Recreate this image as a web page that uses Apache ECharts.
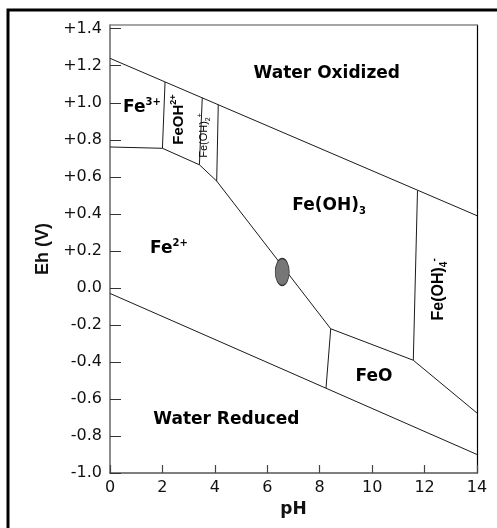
<!DOCTYPE html>
<html>
<head>
<meta charset="utf-8">
<script src="https://cdn.jsdelivr.net/npm/echarts@6/dist/echarts.min.js"></script>
<style>
html,body{margin:0;padding:0;background:#fff;}
#chart{width:497px;height:528px;}
</style>
</head>
<body>
<div id="chart"></div>
<script>
// ---- data (pH, Eh in volts) ----
const xTicks = [0, 2, 4, 6, 8, 10, 12, 14];
const yTickLabels = ['-1.0','-0.8','-0.6','-0.4','-0.2','0.0','+0.2','+0.4','+0.6','+0.8','+1.0','+1.2','+1.4'];

const waterUpper   = [[0, 1.24], [14, 0.39]];
const waterLower   = [[0, -0.03], [14, -0.90]];
const fe3Fe2       = [[0, 0.761], [2.0, 0.754]];
const fe3FeOH      = [[2.0, 0.754], [2.1, 1.112]];
const feOHFe2      = [[2.0, 0.754], [3.41, 0.665]];
const feOHFeOH2    = [[3.41, 0.665], [3.52, 1.026]];
const feOH2Fe2     = [[3.41, 0.665], [4.07, 0.577]];
const feOH2FeOH3   = [[4.07, 0.577], [4.13, 0.989]];
const fe2FeOH3     = [[4.07, 0.577], [8.42, -0.221]];
const fe2FeO       = [[8.42, -0.221], [8.24, -0.542]];
const feOH3FeO     = [[8.42, -0.221], [11.57, -0.391]];
const feOH3FeOH4   = [[11.57, -0.391], [11.73, 0.525]];
const feOFeOH4     = [[11.57, -0.391], [14, -0.676]];

const samplePoint  = [[6.57, 0.086]];

const regionMain = ['Water Oxidized', 'Fe', 'FeOH', 'Fe(OH)', 'Fe(OH)', 'Fe', 'Fe(OH)', 'FeO', 'Water Reduced'];
const regionSub  = ['', '', '', '2', '3', '', '4', '', ''];
const regionSup  = ['', '3+', '2+', '+', '', '2+', '-', '', ''];
const regionPH   = [8.27, 1.22, 2.63, 3.59, 8.36, 2.25, 12.55, 10.07, 4.44];
const regionEh   = [1.159, 0.974, 0.909, 0.823, 0.443, 0.21, -0.008, -0.481, -0.714];

// ---- build chart ----
const boundaries = [waterUpper, waterLower, fe3Fe2, fe3FeOH, feOHFe2, feOHFeOH2, feOH2Fe2,
  feOH2FeOH3, fe2FeOH3, fe2FeO, feOH3FeO, feOH3FeOH4, feOFeOH4];

const H = 'DejaVu Sans';
const V = 'Liberation Sans';
const rotatedLarge = { 2: 15, 6: 16 };
const rotatedSmall = { 3: 11 };

const labelData = regionMain.map((m, i) => {
  let rot = 0, fam = H, size = 17, weight = 'bold';
  if (rotatedLarge[i] !== undefined) { rot = 90; fam = V; size = rotatedLarge[i]; }
  if (rotatedSmall[i] !== undefined) { rot = 90; fam = V; size = rotatedSmall[i]; weight = 'normal'; }
  const supSize = Math.round(size * 0.6);
  let txt = '{m|' + m + '}';
  if (regionSub[i]) txt += '{sb|' + regionSub[i] + '}';
  if (regionSup[i]) txt += '{sp|' + regionSup[i] + '}';
  return {
    value: [regionPH[i], regionEh[i]],
    label: {
      show: true, position: 'inside', rotate: rot, formatter: txt,
      rich: {
        m: { fontFamily: fam, fontSize: size, fontWeight: weight, color: '#000', lineHeight: size + 4 },
        sb: { fontFamily: fam, fontSize: supSize, fontWeight: weight, color: '#000', verticalAlign: 'bottom', lineHeight: size + 4 },
        sp: { fontFamily: fam, fontSize: supSize, fontWeight: weight, color: '#000', verticalAlign: 'top', lineHeight: size + 4 }
      }
    }
  };
});

const series = boundaries.map(seg => ({
  type: 'line', data: seg, showSymbol: false, silent: true,
  lineStyle: { color: '#1a1a1a', width: 1 }, z: 3
}));
series.push({
  type: 'scatter', data: samplePoint, symbol: 'circle', symbolSize: [14, 27],
  itemStyle: { color: '#777', borderColor: '#333', borderWidth: 1, opacity: 1 }, z: 5, silent: true
});
series.push({
  type: 'scatter', data: labelData, symbolSize: 0, silent: true, z: 6,
  itemStyle: { opacity: 1 }
});

const chart = echarts.init(document.getElementById('chart'), null, { renderer: 'canvas' });
chart.setOption({
  animation: false,
  backgroundColor: '#fff',
  grid: { left: 110, right: 20, top: 25, bottom: 55, containLabel: false },
  xAxis: [{
    type: 'value', min: xTicks[0], max: xTicks[xTicks.length - 1], interval: 2,
    axisLine: { onZero: false, lineStyle: { color: '#555', width: 1.5 } },
    axisTick: { inside: true, length: 8, lineStyle: { color: '#444', width: 1.2 } },
    splitLine: { show: false },
    axisLabel: { fontFamily: H, fontSize: 16, color: '#111', margin: 7,
      formatter: v => (xTicks.indexOf(v) >= 0 ? String(v) : '') },
    name: 'pH', nameLocation: 'middle', nameGap: 24,
    nameTextStyle: { fontFamily: H, fontSize: 17, fontWeight: 'bold', color: '#111' }
  }, {
    type: 'value', position: 'top', min: 0, max: 14,
    axisLine: { show: true, onZero: false, lineStyle: { color: '#888', width: 1.5 } },
    axisTick: { show: false }, axisLabel: { show: false }, splitLine: { show: false }
  }],
  yAxis: [{
    type: 'value', min: -1.0, max: 1.42, interval: 0.2,
    axisLine: { show: true, onZero: false, lineStyle: { color: '#666', width: 1.5 } },
    axisTick: { inside: true, length: 11, lineStyle: { color: '#333', width: 1 } },
    splitLine: { show: false },
    axisLabel: { fontFamily: H, fontSize: 16, color: '#111', margin: 8, showMaxLabel: false,
      formatter: v => {
        const i = Math.round((v + 1) / 0.2);
        if (Math.abs(v - (-1 + i * 0.2)) > 1e-6) return '';
        return yTickLabels[i] || '';
      } },
    name: 'Eh (V)', nameLocation: 'middle', nameGap: 58,
    nameTextStyle: { fontFamily: V, fontSize: 18, fontWeight: 'bold', color: '#111' }
  }, {
    type: 'value', position: 'right', min: -1.0, max: 1.42,
    axisLine: { show: true, onZero: false, lineStyle: { color: '#000', width: 1.2 } },
    axisTick: { show: false }, axisLabel: { show: false }, splitLine: { show: false }
  }],
  graphic: [{
    type: 'polyline', silent: true, z: 100,
    shape: { points: [[8, 528], [8, 10], [497, 10]] },
    style: { stroke: '#000', lineWidth: 3, fill: null }
  }],
  series: series
});
</script>
</body>
</html>
